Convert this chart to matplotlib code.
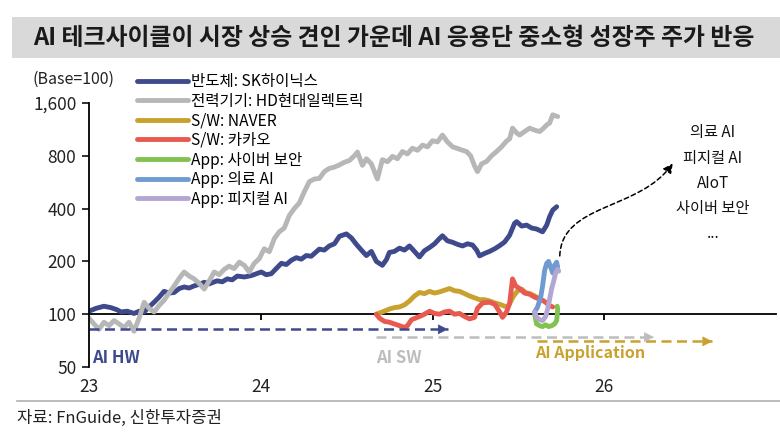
import matplotlib
matplotlib.use("Agg")
import matplotlib.pyplot as plt
from matplotlib.lines import Line2D
from matplotlib.patches import Rectangle, FancyArrowPatch
from matplotlib.path import Path
from matplotlib.ticker import FixedLocator, NullLocator

plt.rcParams["font.family"] = ["Noto Sans CJK KR", "DejaVu Sans"]

TITLE = "AI 테크사이클이 시장 상승 견인 가운데 AI 응용단 중소형 성장주 주가 반응"
SOURCE = "자료: FnGuide, 신한투자증권"

LABELS = [
    "반도체: SK하이닉스",
    "전력기기: HD현대일렉트릭",
    "S/W: NAVER",
    "S/W: 카카오",
    "App: 사이버 보안",
    "App: 의료 AI",
    "App: 피지컬 AI",
]
COLORS = ["#3f4a8c", "#b7b7b7", "#c9a12e", "#e8594f", "#82c250", "#6f9bd1", "#b3a6d3"]

YEAR_TICKS = [23, 24, 25, 26]
Y_TICKS = [50, 100, 200, 400, 800, 1600]
Y_TICK_LABELS = ["50", "100", "200", "400", "800", "1,600"]

# 반도체: SK하이닉스
hynix_t = [23.000, 23.041, 23.087, 23.128, 23.163, 23.187, 23.222, 23.262, 23.292, 23.321,
           23.350, 23.379, 23.408, 23.437, 23.466, 23.496, 23.525, 23.554, 23.583, 23.612,
           23.641, 23.671, 23.700, 23.746, 23.776, 23.805, 23.834, 23.863, 23.904, 23.945,
           23.974, 24.003, 24.032, 24.061, 24.090, 24.120, 24.149, 24.178, 24.207, 24.236,
           24.265, 24.294, 24.341, 24.370, 24.399, 24.429, 24.458, 24.499, 24.528, 24.557,
           24.586, 24.615, 24.644, 24.673, 24.708, 24.732, 24.749, 24.778, 24.808, 24.837,
           24.866, 24.895, 24.924, 24.953, 24.983, 25.012, 25.041, 25.058, 25.087, 25.117,
           25.146, 25.175, 25.204, 25.233, 25.257, 25.274, 25.303, 25.332, 25.362, 25.391,
           25.420, 25.449, 25.478, 25.490, 25.519, 25.548, 25.577, 25.606, 25.641, 25.665,
           25.682, 25.700, 25.723]
hynix_v = [104, 108, 111, 109, 106, 103, 104, 101, 104, 103,
           110, 117, 125, 135, 132, 133, 140, 143, 141, 145,
           148, 152, 149, 155, 153, 159, 157, 165, 163, 166,
           170, 174, 168, 170, 182, 195, 192, 203, 210, 206,
           216, 214, 235, 232, 245, 252, 278, 287, 272, 250,
           232, 216, 228, 200, 190, 205, 225, 228, 238, 232,
           245, 228, 212, 230, 240, 252, 270, 280, 262, 257,
           250, 245, 252, 248, 232, 215, 222, 228, 236, 246,
           258, 282, 330, 337, 318, 322, 310, 306, 295, 322,
           360, 392, 410]

# 전력기기: HD현대일렉트릭
hde_t = [23.000, 23.029, 23.058, 23.087, 23.117, 23.146, 23.175, 23.204, 23.233, 23.262,
         23.292, 23.321, 23.350, 23.379, 23.408, 23.437, 23.466, 23.496, 23.525, 23.554,
         23.583, 23.612, 23.641, 23.671, 23.700, 23.729, 23.758, 23.787, 23.816, 23.845,
         23.875, 23.904, 23.933, 23.962, 23.991, 24.020, 24.050, 24.079, 24.108, 24.137,
         24.166, 24.195, 24.224, 24.254, 24.283, 24.312, 24.341, 24.370, 24.399, 24.429,
         24.458, 24.487, 24.516, 24.545, 24.563, 24.592, 24.615, 24.644, 24.679, 24.708,
         24.738, 24.767, 24.796, 24.825, 24.854, 24.883, 24.913, 24.942, 24.971, 25.000,
         25.029, 25.058, 25.087, 25.117, 25.146, 25.175, 25.198, 25.222, 25.245, 25.262,
         25.286, 25.315, 25.344, 25.373, 25.402, 25.431, 25.449, 25.466, 25.490, 25.507,
         25.536, 25.566, 25.595, 25.624, 25.647, 25.665, 25.682, 25.700, 25.717, 25.729]
hde_v = [95, 88, 82, 90, 86, 92, 88, 84, 90, 80,
         95, 117, 108, 103, 112, 120, 132, 145, 160, 174,
         165, 159, 150, 139, 155, 174, 168, 180, 188, 182,
         198, 190, 174, 195, 207, 236, 227, 270, 295, 310,
         365, 400, 430, 500, 570, 590, 594, 650, 678, 690,
         710, 735, 752, 800, 840, 706, 770, 720, 590, 760,
         740, 794, 770, 846, 820, 884, 860, 920, 900, 975,
         960, 1050, 960, 900, 880, 860, 846, 800, 700, 650,
         720, 743, 800, 846, 900, 970, 1000, 1150, 1080, 1050,
         1100, 1150, 1120, 1100, 1150, 1200, 1230, 1370, 1350, 1340]

# S/W: NAVER
naver_t = [24.673, 24.708, 24.749, 24.778, 24.808, 24.837, 24.866, 24.895, 24.924, 24.953,
           24.983, 25.012, 25.041, 25.070, 25.099, 25.128, 25.157, 25.187, 25.216, 25.245,
           25.274, 25.303, 25.332, 25.362, 25.391, 25.420, 25.437, 25.455, 25.472, 25.496,
           25.519, 25.542, 25.566, 25.595, 25.624, 25.647]
naver_v = [100, 103, 107, 109, 110, 113, 119, 127, 133, 131,
           135, 132, 134, 137, 140, 136, 135, 131, 127, 124,
           121, 121, 119, 116, 114, 111, 110, 118, 127, 136,
           139, 133, 131, 127, 122, 119]

# S/W: 카카오
kakao_t = [24.673, 24.691, 24.720, 24.749, 24.778, 24.808, 24.837, 24.854, 24.878, 24.901,
           24.924, 24.953, 24.983, 25.012, 25.041, 25.070, 25.099, 25.128, 25.157, 25.187,
           25.216, 25.245, 25.262, 25.292, 25.332, 25.362, 25.391, 25.408, 25.431, 25.449,
           25.466, 25.484, 25.507, 25.536, 25.566, 25.595, 25.624, 25.653, 25.682, 25.700]
kakao_v = [100, 95, 91, 90, 88, 86, 84, 86, 93, 95,
           97, 100, 104, 101, 100, 103, 104, 100, 101, 97,
           94, 96, 108, 116, 117, 114, 103, 96, 103, 115,
           159, 145, 140, 132, 130, 125, 122, 118, 112, 110]

# App: 사이버 보안
cyber_t = [25.595, 25.606, 25.624, 25.641, 25.659, 25.676, 25.694, 25.711, 25.723, 25.729, 25.726]
cyber_v = [100, 88, 86, 85, 87, 85, 86, 88, 92, 107, 111]

# App: 의료 AI
medical_t = [25.595, 25.612, 25.630, 25.641, 25.653, 25.665, 25.676, 25.688, 25.700, 25.711,
             25.723, 25.729]
medical_v = [103, 110, 125, 145, 178, 195, 200, 185, 172, 190, 198, 185]

# App: 피지컬 AI
physical_t = [25.595, 25.606, 25.624, 25.641, 25.659, 25.671, 25.682, 25.694, 25.706, 25.717,
              25.729, 25.735]
physical_v = [103, 96, 93, 92, 97, 108, 122, 140, 155, 172, 180, 176]

NOTE_LINES = ["의료 AI", "피지컬 AI", "AIoT", "사이버 보안", "..."]


def dashed_arrow(ax, x0, x1, y, color):
    ax.plot([x0, x1], [y, y], color=color, lw=1.8, dashes=(4, 2.2))
    ax.annotate("", xy=(x1, y), xytext=(x1 - 0.02, y),
                arrowprops=dict(arrowstyle="-|>", color=color, lw=0.5,
                                mutation_scale=16, shrinkA=0, shrinkB=0))


def main():
    fig = plt.figure(figsize=(7.8, 4.45), dpi=100)
    W, H = 780, 445

    # title band
    fig.add_artist(Rectangle((12 / W, 1 - 58 / H), 1 - 12 / W, 41 / H,
                             transform=fig.transFigure, color="#d9d9d9", lw=0))
    fig.text(33 / W, 1 - 38 / H, TITLE, fontsize=17.2, fontweight="bold",
             color="#1a1a1a", va="center", ha="left")

    ax = fig.add_axes([89 / W, 1 - 367 / H, 687 / W, 264 / H])
    ax.set_yscale("log")
    ax.set_xlim(23, 27)
    ax.set_ylim(50, 1600)

    series = [
        (hynix_t, hynix_v), (hde_t, hde_v), (naver_t, naver_v), (kakao_t, kakao_v),
        (cyber_t, cyber_v), (medical_t, medical_v), (physical_t, physical_v),
    ]
    for (t, v), label, color in zip(series, LABELS, COLORS):
        ax.plot(t, v, color=color, lw=3.5, label=label, solid_joinstyle="round",
                solid_capstyle="round")

    # axes
    for side in ["top", "right", "bottom"]:
        ax.spines[side].set_visible(False)
    ax.spines["left"].set_linewidth(1.3)
    ax.yaxis.set_major_locator(FixedLocator(Y_TICKS))
    ax.yaxis.set_minor_locator(NullLocator())
    ax.set_yticklabels(Y_TICK_LABELS)
    ax.tick_params(axis="y", direction="out", length=5, width=1.3, labelsize=12.5,
                   pad=4, colors="#222222")
    ax.set_xticks(YEAR_TICKS)
    ax.set_xticklabels([str(y) for y in YEAR_TICKS])
    ax.tick_params(axis="x", length=0, labelsize=12.5, pad=8, colors="#222222")

    # base line at 100 with year ticks
    sec = ax.secondary_xaxis(0.2)
    sec.spines["bottom"].set_linewidth(1.3)
    sec.set_xticks(YEAR_TICKS[1:])
    sec.tick_params(axis="x", direction="out", length=4, width=1.3, labelbottom=False)

    # phase arrows
    dashed_arrow(ax, 23.0, 25.09, 82, "#3f4a8c")
    dashed_arrow(ax, 24.67, 26.29, 74, "#bdbdbd")
    dashed_arrow(ax, 25.61, 26.63, 70, "#c9a12e")
    ax.text(23.02, 56.5, "AI HW", color="#3f4a8c", fontsize=12, fontweight="bold",
            va="center", ha="left")
    ax.text(24.67, 56.5, "AI SW", color="#bdbdbd", fontsize=12, fontweight="bold",
            va="center", ha="left")
    ax.text(25.60, 60, "AI Application", color="#c9a12e", fontsize=11.5, fontweight="bold",
            va="center", ha="left")

    # curved dotted arrow to the note
    curve = Path([(25.741, 215), (25.752, 430), (26.207, 390), (26.399, 725)],
                 [Path.MOVETO, Path.CURVE4, Path.CURVE4, Path.CURVE4])
    arrow = FancyArrowPatch(path=curve, arrowstyle="-|>", mutation_scale=14,
                            color="black", lw=1.1, linestyle=(0, (3, 2)),
                            transform=ax.transData)
    ax.add_patch(arrow)
    for i, line in enumerate(NOTE_LINES):
        fig.text(713 / W, 1 - (133 + 25 * i) / H, line, fontsize=11, ha="center",
                 va="center", color="#111111")

    ax.legend(loc="upper left", bbox_to_anchor=(137 / W, 1 - 73 / H),
              bbox_transform=fig.transFigure, frameon=False, fontsize=11.2,
              handlelength=3.3, handletextpad=0.2, labelspacing=0.17,
              borderpad=0, borderaxespad=0)

    fig.text(33 / W, 1 - 79 / H, "(Base=100)", fontsize=11.5, va="center", ha="left",
             color="#222222")

    # source
    fig.add_artist(Line2D([17 / W, 1], [1 - 401 / H, 1 - 401 / H],
                          transform=fig.transFigure, color="#b0b0b0", lw=1.2))
    fig.text(17 / W, 1 - 418 / H, SOURCE, fontsize=12, va="center", ha="left",
             color="#222222")

    fig.savefig("out.png", dpi=100)


if __name__ == "__main__":
    main()
